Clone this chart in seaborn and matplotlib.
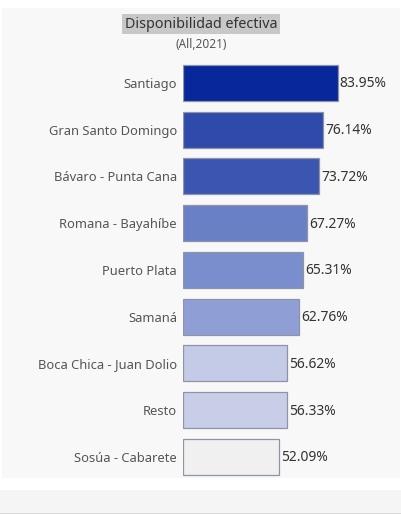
import matplotlib
matplotlib.use("Agg")
import matplotlib.pyplot as plt
import seaborn as sns
import pandas as pd
from matplotlib.patches import Rectangle

# datos
destinos = ['Santiago', 'Gran Santo Domingo', 'Bávaro - Punta Cana', 'Romana - Bayahíbe',
            'Puerto Plata', 'Samaná', 'Boca Chica - Juan Dolio', 'Resto', 'Sosúa - Cabarete']
disponibilidad = [83.95, 76.14, 73.72, 67.27, 65.31, 62.76, 56.62, 56.33, 52.09]
colores = ['#08279a', '#2f4aab', '#3c55b0', '#6a80c6', '#7a8ecd',
           '#8f9fd6', '#c4cbe7', '#c8cee8', '#f0f0f0']

df = pd.DataFrame({'destino': destinos, 'valor': disponibilidad})

sns.set_style('white')
plt.rcParams['font.family'] = ['Noto Sans', 'DejaVu Sans']

W, H = 402, 514
fig = plt.figure(figsize=(W / 100, H / 100), dpi=100)
fig.patch.set_facecolor('white')

# fondo del panel y franja inferior
for x0, y0, w, h, c in [(2, 478, 398, 470, '#f8f8f9'), (0, 513, W, 23, '#f5f5f5'), (0, H, W, 1.5, '#d8d8d8')]:
    fig.patches.append(Rectangle((x0 / W, 1 - y0 / H), w / W, h / H, transform=fig.transFigure,
                                 facecolor=c, edgecolor='none', zorder=-10))

ax = fig.add_axes([183 / W, 1 - 480.2 / H, 217 / W, (480.2 - 59.5) / H])
ax.set_facecolor('none')

sns.barplot(data=df, x='valor', y='destino', hue='destino', palette=dict(zip(destinos, colores)),
            orient='h', width=0.77, legend=False, saturation=1, edgecolor='#8e93a6', linewidth=0.9, ax=ax)

ax.set_xlim(0, 117.8)
ax.set_ylim(8.5, -0.5)
for s in ax.spines.values():
    s.set_visible(False)
ax.set_xticks([])
ax.set_xlabel('')
ax.set_ylabel('')
ax.tick_params(axis='y', length=0, pad=4.3, labelsize=9.3, labelcolor='#555555')

for i, v in enumerate(disponibilidad):
    ax.text(v + 1.2, i + 0.02, f'{v:.2f}%', va='center', ha='left', fontsize=10, color='#333333')

fig.text(201 / W, 1 - 24 / H, 'Disponibilidad efectiva', ha='center', va='center', fontsize=10.3,
         color='#333333', bbox=dict(facecolor='#c8c8c8', edgecolor='none', pad=2))
fig.text(201 / W, 1 - 44 / H, '(All,2021)', ha='center', va='center', fontsize=8.5, color='#555555')

fig.savefig('out.png', dpi=100)
